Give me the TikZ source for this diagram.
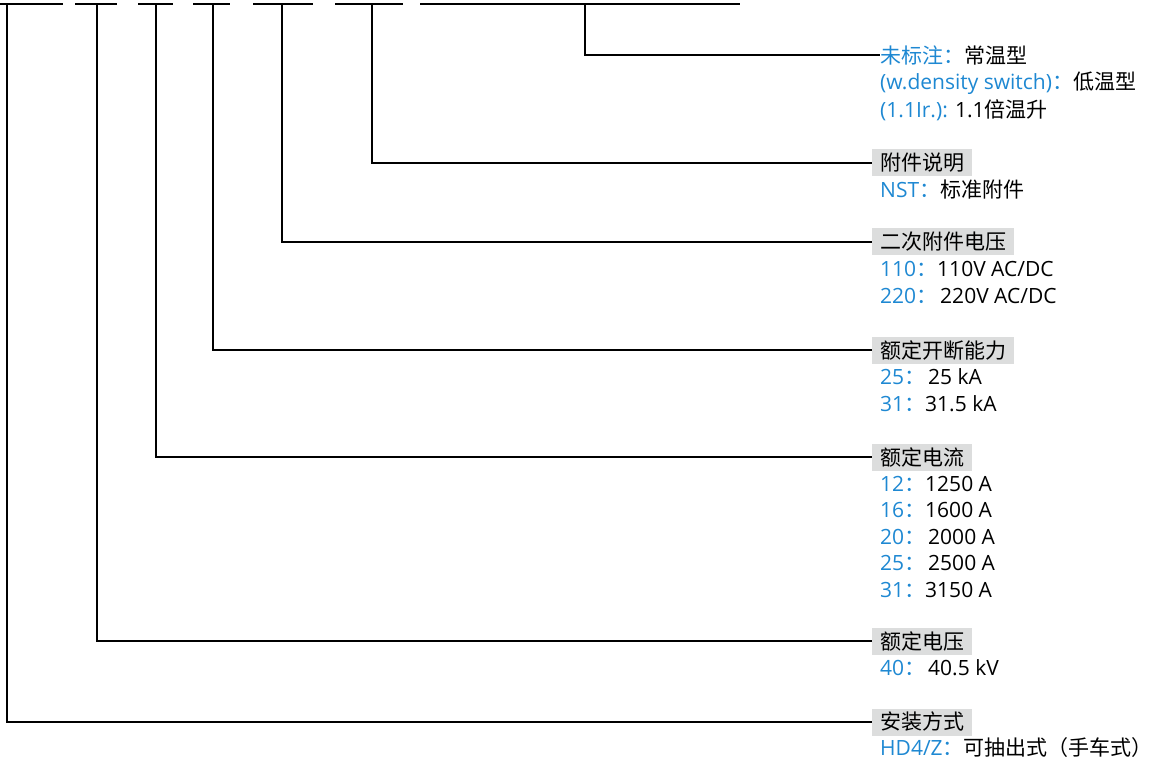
\documentclass[tikz,border=0pt]{standalone}
\usepackage{fontspec}
\setmainfont{Open Sans}
\newfontfamily\cjk{Noto Sans CJK SC}
\usetikzlibrary{positioning}
\definecolor{codeblue}{HTML}{1E88D2}
\definecolor{headgray}{HTML}{DCDDDD}

\begin{document}
\begin{tikzpicture}[
    x=1pt, y=-1pt,
    wire/.style={draw, line width=1.5pt},
    head/.style={fill=headgray, anchor=west, inner xsep=8pt, inner ysep=0pt,
                 minimum height=27pt, font=\fontsize{21}{24}\selectfont\cjk},
    item/.style={anchor=west, inner sep=0pt, font=\fontsize{21}{24}\selectfont}
  ]
  \useasboundingbox (0,0) rectangle (1157,762);
  \newcommand{\code}[1]{\textcolor{codeblue}{#1}}
  \newcommand{\zh}[1]{{\cjk #1}}

  % Top bars
  \coordinate (b1) at (7,4);   \draw[wire] (0,4) -- (63,4);
  \coordinate (b2) at (97,4);  \draw[wire] (75,4) -- (117,4);
  \coordinate (b3) at (156,4); \draw[wire] (138,4) -- (173,4);
  \coordinate (b4) at (213,4); \draw[wire] (193,4) -- (230,4);
  \coordinate (b5) at (282,4); \draw[wire] (253,4) -- (313,4);
  \coordinate (b6) at (372,4); \draw[wire] (335,4) -- (403,4);
  \coordinate (b7) at (585,4); \draw[wire] (420,4) -- (740,4);

  % Temperature option
  \node[item] (h7) at (880,55) {\code{\zh{未标注：}}\zh{常温型}};
  \node[item] (h7a) at (880,83) {\code{(w.density switch)\zh{：}}\zh{低温型}};
  \node[item] (h7b) at (880,110) {\code{(1.1Ir.):} 1.1\zh{倍温升}};

  % Accessories
  \node[head] (h6) at (872,163) {附件说明\hspace{3pt}};
  \node[item] (h6a) at (880,190) {\code{NST\zh{：}}\zh{标准附件}};

  % Auxiliary voltage
  \node[head] (h5) at (872,242) {二次附件电压\hspace{2pt}};
  \node[item] (h5a) at (880,269) {\code{110\zh{：}}110V AC/DC};
  \node[item] (h5b) at (880,296) {\code{220\zh{：}}\hspace{3pt}220V AC/DC};

  % Breaking capacity
  \node[head] (h4) at (872,350) {额定开断能力\hspace{2pt}};
  \node[item] (h4a) at (880,377) {\code{25\zh{：}}\hspace{3pt}25 kA};
  \node[item] (h4b) at (880,404) {\code{31\zh{：}}31.5 kA};

  % Rated current
  \node[head] (h3) at (872,457) {额定电流\hspace{3pt}};
  \node[item] (h3a) at (880,484) {\code{12\zh{：}}1250 A};
  \node[item] (h3b) at (880,510) {\code{16\zh{：}}1600 A};
  \node[item] (h3c) at (880,537) {\code{20\zh{：}}\hspace{3pt}2000 A};
  \node[item] (h3d) at (880,563) {\code{25\zh{：}}\hspace{3pt}2500 A};
  \node[item] (h3e) at (880,590) {\code{31\zh{：}}3150 A};

  % Rated voltage
  \node[head] (h2) at (872,641) {额定电压\hspace{3pt}};
  \node[item] (h2a) at (880,668) {\code{40\zh{：}}\hspace{3pt}40.5 kV};

  % Mounting
  \node[head] (h1) at (872,722) {安装方式\hspace{3pt}};
  \node[item] (h1a) at (880,748) {\code{HD4/Z\zh{：}}\zh{可抽出式（手车式）}};

  % Leaders
  \draw[wire] (b7) |- (h7.west);
  \draw[wire] (b6) |- (h6.west);
  \draw[wire] (b5) |- (h5.west);
  \draw[wire] (b4) |- (h4.west);
  \draw[wire] (b3) |- (h3.west);
  \draw[wire] (b2) |- (h2.west);
  \draw[wire] (b1) |- (h1.west);
\end{tikzpicture}
\end{document}
